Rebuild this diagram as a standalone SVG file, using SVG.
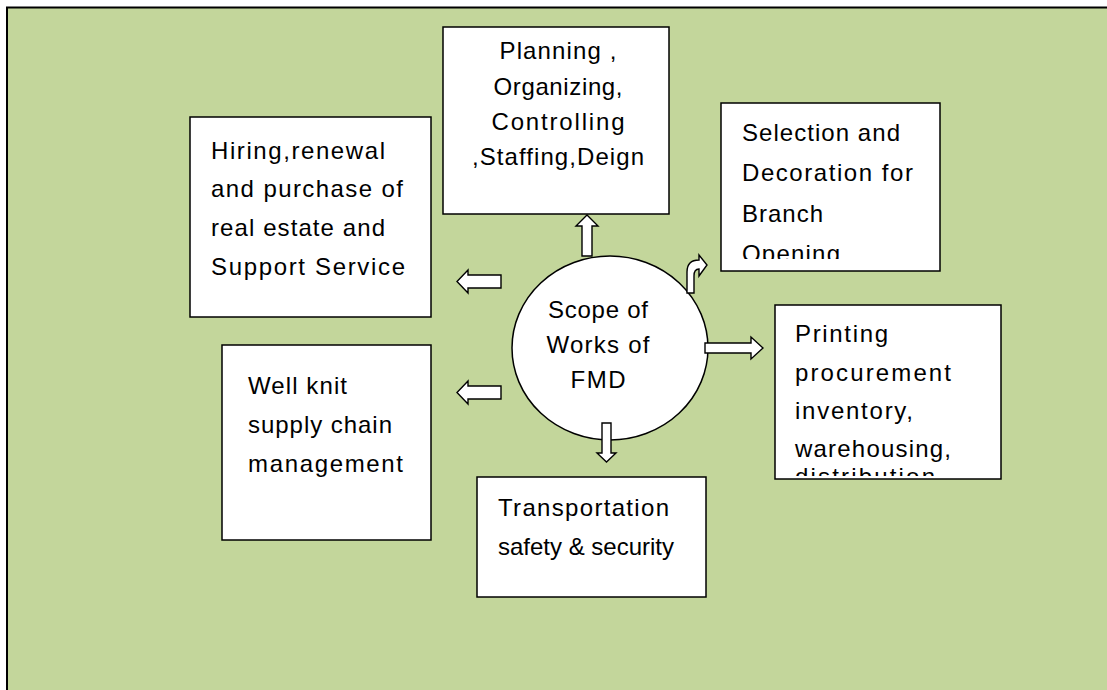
<svg xmlns="http://www.w3.org/2000/svg" width="1107" height="690" viewBox="0 0 1107 690">
  <style>
    .box { fill: #FFFFFF; stroke: #000000; stroke-width: 1.5; }
    .blk { fill: #FFFFFF; stroke: #000000; stroke-width: 1.4; stroke-linejoin: miter; }
    .t { font-family: "Liberation Sans", Arial, sans-serif; font-size: 24px; fill: #000000; }
    .c { text-anchor: middle; }
  </style>
  <defs>
    <clipPath id="clipSel"><rect x="721" y="103" width="219" height="156"/></clipPath>
    <clipPath id="clipPrn"><rect x="775" y="305" width="226" height="171"/></clipPath>
  </defs>

  <!-- page background with frame edges -->
  <rect x="7" y="7.5" width="1100" height="682.5" fill="#C3D69B"/>
  <line x1="6" y1="7.5" x2="1107" y2="7.5" stroke="#000" stroke-width="2"/>
  <line x1="7" y1="7" x2="7" y2="690" stroke="#000" stroke-width="2"/>

  <g id="node-planning">
    <rect class="box" x="443" y="27" width="226" height="187"/>
    <text class="t c" x="558" y="59" textLength="117" lengthAdjust="spacing">Planning ,</text>
    <text class="t c" x="558" y="95" textLength="129" lengthAdjust="spacing">Organizing,</text>
    <text class="t c" x="558" y="130" textLength="133" lengthAdjust="spacing">Controlling</text>
    <text class="t c" x="558" y="165" textLength="172" lengthAdjust="spacing">,Staffing,Deign</text>
  </g>

  <g id="node-hiring">
    <rect class="box" x="190" y="117" width="241" height="200"/>
    <text class="t" x="211" y="159" textLength="174" lengthAdjust="spacing">Hiring,renewal</text>
    <text class="t" x="211" y="197" textLength="192" lengthAdjust="spacing">and purchase of</text>
    <text class="t" x="211" y="236" textLength="174" lengthAdjust="spacing">real estate and</text>
    <text class="t" x="211" y="275" textLength="194" lengthAdjust="spacing">Support Service</text>
  </g>

  <g id="node-selection">
    <rect class="box" x="721" y="103" width="219" height="168"/>
    <g clip-path="url(#clipSel)">
      <text class="t" x="742" y="141" textLength="158" lengthAdjust="spacing">Selection and</text>
      <text class="t" x="742" y="181" textLength="171" lengthAdjust="spacing">Decoration for</text>
      <text class="t" x="742" y="222" textLength="81" lengthAdjust="spacing">Branch</text>
      <text class="t" x="742" y="262" textLength="98" lengthAdjust="spacing">Opening</text>
    </g>
  </g>

  <g id="node-printing">
    <rect class="box" x="775" y="305" width="226" height="174"/>
    <g clip-path="url(#clipPrn)">
      <text class="t" x="795" y="342" textLength="93" lengthAdjust="spacing">Printing</text>
      <text class="t" x="795" y="381" textLength="156" lengthAdjust="spacing">procurement</text>
      <text class="t" x="795" y="419" textLength="118" lengthAdjust="spacing">inventory,</text>
      <text class="t" x="795" y="457" textLength="156" lengthAdjust="spacing">warehousing,</text>
      <text class="t" x="795" y="485" textLength="140" lengthAdjust="spacing">distribution</text>
    </g>
  </g>

  <g id="node-wellknit">
    <rect class="box" x="222" y="345" width="209" height="195"/>
    <text class="t" x="248" y="394" textLength="99" lengthAdjust="spacing">Well knit</text>
    <text class="t" x="248" y="433" textLength="144" lengthAdjust="spacing">supply chain</text>
    <text class="t" x="248" y="472" textLength="155" lengthAdjust="spacing">management</text>
  </g>

  <g id="node-transport">
    <rect class="box" x="477" y="477" width="229" height="120"/>
    <text class="t" x="498" y="516" textLength="171" lengthAdjust="spacing">Transportation</text>
    <text class="t" x="498" y="555" textLength="176" lengthAdjust="spacing">safety &amp; security</text>
  </g>

  <g id="node-center">
    <ellipse class="box" cx="610" cy="348" rx="98" ry="92"/>
    <text class="t c" x="598" y="318" textLength="100" lengthAdjust="spacing">Scope of</text>
    <text class="t c" x="598" y="353" textLength="103" lengthAdjust="spacing">Works of</text>
    <text class="t c" x="598" y="388" textLength="55" lengthAdjust="spacing">FMD</text>
  </g>

  <g id="connectors">
    <!-- up to planning -->
    <path class="blk" d="M582,256 L582,226 L576,226 L587,215 L598,226 L592,226 L592,256 Z"/>
    <!-- bent arrow to selection -->
    <path class="blk" d="M687,293 L687,272 Q687,260 699,260 L699,255 L707,265 L699,276 L699,269 Q694,269 694,276 L694,293 Z"/>
    <!-- right to printing -->
    <path class="blk" d="M705,343 L751,343 L751,337 L763,348 L751,359 L751,353 L705,353 Z"/>
    <!-- left to hiring -->
    <path class="blk" d="M501,275 L468,275 L468,270 L457,281.5 L468,293 L468,288 L501,288 Z"/>
    <!-- left to well knit -->
    <path class="blk" d="M501,386 L468,386 L468,381 L457,392.5 L468,404 L468,399 L501,399 Z"/>
    <!-- down to transportation -->
    <path class="blk" d="M602,423 L602,453 L597,453 L606.5,462 L616,453 L611,453 L611,423 Z"/>
  </g>
</svg>
